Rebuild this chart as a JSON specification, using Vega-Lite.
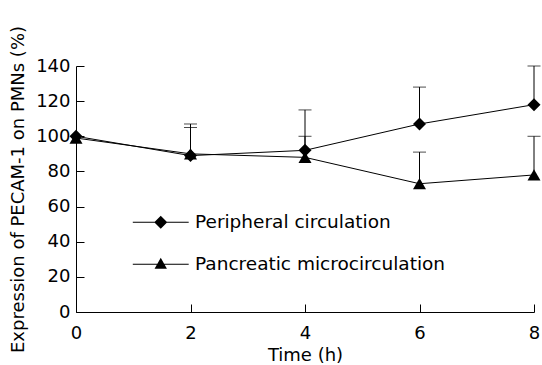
{
  "$schema": "https://vega.github.io/schema/vega-lite/v6.json",
  "autosize": "none",
  "width": 458,
  "height": 246,
  "padding": {"left": 76, "top": 66, "right": 8, "bottom": 53},
  "background": "white",
  "config": {
    "font": "DejaVu Sans",
    "view": {"stroke": null},
    "axis": {"grid": false, "domainColor": "black", "tickColor": "black", "labelColor": "black", "titleColor": "black", "labelFontSize": 18, "titleFontSize": 18, "titleFontWeight": "normal", "labelFont": "DejaVu Sans", "titleFont": "DejaVu Sans", "domainWidth": 1, "tickWidth": 1, "labelOverlap": false}
  },
  "data": {
    "values": [
      {"t": 0, "series": "Peripheral circulation", "mean": 100, "upper": null},
      {"t": 2, "series": "Peripheral circulation", "mean": 89, "upper": 107},
      {"t": 4, "series": "Peripheral circulation", "mean": 92, "upper": 115},
      {"t": 6, "series": "Peripheral circulation", "mean": 107, "upper": 128},
      {"t": 8, "series": "Peripheral circulation", "mean": 118, "upper": 140},
      {"t": 0, "series": "Pancreatic microcirculation", "mean": 99, "upper": null},
      {"t": 2, "series": "Pancreatic microcirculation", "mean": 90, "upper": 105},
      {"t": 4, "series": "Pancreatic microcirculation", "mean": 88, "upper": 100},
      {"t": 6, "series": "Pancreatic microcirculation", "mean": 73, "upper": 91},
      {"t": 8, "series": "Pancreatic microcirculation", "mean": 78, "upper": 100}
    ]
  },
  "encoding": {
    "x": {"field": "t", "type": "quantitative", "scale": {"domain": [0, 8], "nice": false}, "axis": {"values": [0, 2, 4, 6, 8], "title": "Time (h)", "tickSize": -8, "labelPadding": 20, "titlePadding": 4, "labelFlush": false}},
    "y": {"field": "mean", "type": "quantitative", "scale": {"domain": [0, 140], "nice": false}, "axis": {"values": [0, 20, 40, 60, 80, 100, 120, 140], "title": "Expression of PECAM-1 on PMNs (%)", "tickSize": -8, "labelPadding": 14, "titlePadding": 8, "labelOverlap": false}}
  },
  "resolve": {"scale": {"shape": "independent"}, "legend": {"shape": "independent"}},
  "layer": [
    {
      "mark": {"type": "rule", "color": "black", "strokeWidth": 1},
      "encoding": {
        "y2": {"field": "upper"}
      }
    },
    {
      "mark": {"type": "tick", "color": "black", "orient": "horizontal", "size": 13, "thickness": 1},
      "encoding": {
        "y": {"field": "upper", "type": "quantitative"}
      }
    },
    {
      "mark": {"type": "line", "color": "black", "strokeWidth": 1},
      "encoding": {
        "detail": {"field": "series"}
      }
    },
    {
      "mark": {"type": "point", "filled": true, "color": "black", "opacity": 1, "size": 169},
      "encoding": {
        "shape": {
          "field": "series", "type": "nominal",
          "scale": {"domain": ["Peripheral circulation", "Pancreatic microcirculation"], "range": ["diamond", "triangle-up"]},
          "legend": null
        }
      }
    },
    {
      "mark": {"type": "point", "filled": true, "color": "black", "opacity": 0, "size": 169},
      "encoding": {
        "shape": {
          "field": "series", "type": "nominal",
          "scale": {"domain": ["Peripheral circulation", "Pancreatic microcirculation"], "range": ["M-4.3,-0.08H4.3V0.08H-4.3ZM0,-1L1,0L0,1L-1,0Z", "M-4.3,-0.08H4.3V0.08H-4.3ZM0,-1L0.95,0.7L-0.95,0.7Z"]},
          "legend": {
            "title": null,
            "orient": "none",
            "legendX": 75.5,
            "legendY": 147,
            "padding": 0,
            "symbolSize": 169,
            "symbolFillColor": "black",
            "symbolStrokeWidth": 0,
            "symbolOpacity": 1,
            "labelFontSize": 18.5,
            "labelFont": "DejaVu Sans",
            "labelColor": "black",
            "labelOffset": 25,
            "labelLimit": 0,
            "rowPadding": 23
          }
        }
      }
    }
  ]
}
